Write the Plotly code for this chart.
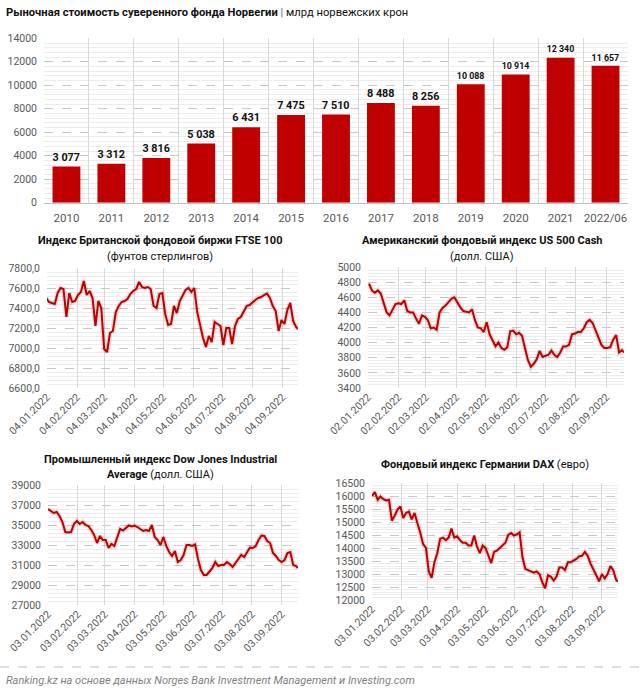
import plotly.graph_objects as go

# ---------------- data ----------------
years = ["2010", "2011", "2012", "2013", "2014", "2015", "2016", "2017", "2018",
         "2019", "2020", "2021", "2022/06"]
fund_values = [3077, 3312, 3816, 5038, 6431, 7475, 7510, 8488, 8256, 10088, 10914, 12340, 11657]

dates = [
    "2022-01-03", "2022-01-06", "2022-01-09", "2022-01-12", "2022-01-15", "2022-01-18", "2022-01-21",
    "2022-01-24", "2022-01-27", "2022-01-30", "2022-02-02", "2022-02-05", "2022-02-08", "2022-02-11",
    "2022-02-14", "2022-02-17", "2022-02-20", "2022-02-23", "2022-02-26", "2022-03-01", "2022-03-04",
    "2022-03-07", "2022-03-10", "2022-03-13", "2022-03-16", "2022-03-19", "2022-03-22", "2022-03-25",
    "2022-03-28", "2022-03-31", "2022-04-03", "2022-04-06", "2022-04-09", "2022-04-12", "2022-04-15",
    "2022-04-18", "2022-04-21", "2022-04-24", "2022-04-27", "2022-04-30", "2022-05-03", "2022-05-06",
    "2022-05-09", "2022-05-12", "2022-05-15", "2022-05-18", "2022-05-21", "2022-05-24", "2022-05-27",
    "2022-05-30", "2022-06-02", "2022-06-05", "2022-06-08", "2022-06-11", "2022-06-14", "2022-06-17",
    "2022-06-20", "2022-06-23", "2022-06-26", "2022-06-29", "2022-07-02", "2022-07-05", "2022-07-08",
    "2022-07-11", "2022-07-14", "2022-07-17", "2022-07-20", "2022-07-23", "2022-07-26", "2022-07-29",
    "2022-08-01", "2022-08-04", "2022-08-07", "2022-08-10", "2022-08-13", "2022-08-16", "2022-08-19",
    "2022-08-22", "2022-08-25", "2022-08-28", "2022-08-31", "2022-09-03", "2022-09-06", "2022-09-09",
    "2022-09-12", "2022-09-15", "2022-09-18", "2022-09-20",
]

ftse = [
    7505, 7460, 7450, 7440, 7550, 7600, 7590, 7310, 7550, 7460,
    7470, 7530, 7560, 7670, 7530, 7570, 7500, 7220, 7470,
    7400, 6990, 6960, 7150, 7170, 7360, 7420, 7460, 7470, 7490, 7540,
    7570, 7590, 7660, 7610, 7600, 7610, 7590, 7420, 7400, 7540,
    7550, 7340, 7230, 7240, 7420, 7350, 7470, 7520, 7580, 7600,
    7560, 7600, 7360, 7230, 7100, 7010, 7120, 7060, 7260, 7240,
    7220, 7030, 7200, 7200, 7040, 7220, 7290, 7310, 7360, 7420,
    7430, 7460, 7480, 7500, 7510, 7530, 7545, 7500, 7420, 7370, 7170,
    7280, 7240, 7380, 7450, 7270, 7210,
    7190,
]

us500 = [
    4780, 4690, 4660, 4690, 4650, 4520, 4400, 4360, 4430, 4510,
    4520, 4510, 4560, 4420, 4400, 4400, 4320, 4250, 4360,
    4340, 4300, 4190, 4200, 4170, 4400, 4460, 4490, 4530, 4580, 4600,
    4530, 4470, 4420, 4410, 4400, 4440, 4300, 4200, 4190, 4140,
    4270, 4110, 4030, 3950, 4000, 3930, 3905, 3940, 4150, 4160,
    4110, 4130, 4090, 3910, 3770, 3680, 3720, 3780, 3890, 3810,
    3820, 3840, 3895, 3840, 3810, 3870, 3950, 3950, 3970, 4110,
    4120, 4140, 4140, 4190, 4270, 4300, 4260, 4160, 4050, 3970, 3930,
    3930, 3940, 4040, 4100, 3870, 3900,
    3870,
]

dow = [
    36600, 36400, 36200, 36300, 35900, 35300, 34300, 34250, 34300, 35100,
    35400, 35100, 35300, 35000, 34900, 34500, 34000, 33200, 33900,
    33500, 33500, 32700, 33100, 32900, 33700, 34600, 34450, 34700, 34950, 34850,
    34950, 34800, 34600, 34400, 34500, 34400, 35000, 33800, 33500, 33000,
    33800, 32900, 32300, 31900, 32400, 31300, 31500, 32000, 33000, 33000,
    32900, 33050, 31600, 30500, 30000, 30000, 30350, 30700, 31300, 30900,
    31000, 31000, 31300, 31100, 30800, 31200, 31500, 32000, 31800, 32300,
    32750, 32700, 32900, 33500, 33950, 33900, 33400, 33200, 32200, 31900, 31500,
    31300, 31500, 32200, 32300, 31000, 30900,
    30700,
]

dax = [
    16000, 16150, 15850, 15980, 15880, 15830, 15850, 15050, 15250, 15480,
    15600, 15150, 15350, 15400, 15100, 15350, 14950, 14600, 14150,
    14000, 13100, 12850, 13450, 13800, 14350, 14400, 14300, 14400, 14750, 14400,
    14450, 14300, 14200, 14200, 14100, 14100, 14480, 14050, 13800, 14100,
    14000, 13700, 13420, 13850, 13900, 14000, 14100, 14200, 14500, 14580,
    14480, 14520, 14600, 13650, 13200, 13150, 13100, 13050, 13100, 13000,
    12680, 12450, 12950, 12900, 12750, 12900, 13250, 13250, 13150, 13450,
    13450, 13500, 13580, 13680, 13700, 13850, 13700, 13400, 13200, 12950, 12720,
    13000, 12830, 13000, 13300, 13150, 12780,
    12700,
]

# ---------------- styling ----------------
W, H = 642, 692
RED = "#C00000"
TICK = "#595959"
FONT = "Roboto"
MAJOR = "#c8c8c8"
MINOR = "#ededed"


def xd(a, b):
    return [a / W, b / W]


def yd(top, bottom):
    return [1 - bottom / H, 1 - top / H]


fig = go.Figure()

# bar chart
fig.add_trace(go.Bar(
    x=years, y=fund_values, marker=dict(color=RED, line=dict(width=0)),
    texttemplate="<b>%{y:,}</b>", textposition="outside", cliponaxis=False,
    textfont=dict(family=FONT, size=11.5, color="#111111"),
    xaxis="x", yaxis="y", showlegend=False,
))

panels = [
    ("x2", "y2", ftse),
    ("x3", "y3", us500),
    ("x4", "y4", dow),
    ("x5", "y5", dax),
]
for xa, ya, vals in panels:
    fig.add_trace(go.Scatter(
        x=dates, y=vals, mode="lines", xaxis=xa, yaxis=ya, showlegend=False,
        line=dict(color="rgba(90,0,0,0.13)", width=5), hoverinfo="skip",
    ))
    fig.add_trace(go.Scatter(
        x=dates, y=vals, mode="lines", xaxis=xa, yaxis=ya, showlegend=False,
        line=dict(color=RED, width=2),
    ))

layout = dict(
    width=W, height=H, margin=dict(l=0, r=0, t=0, b=0, autoexpand=False),
    paper_bgcolor="white", plot_bgcolor="white",
    separators=", ",
    bargap=0.38,
    font=dict(family=FONT, color=TICK),
)

layout["xaxis"] = dict(
    domain=xd(44, 628), anchor="y", type="category", automargin=False,
    tickson="boundaries", showgrid=True, gridcolor="#d9d9d9", gridwidth=1,
    ticks="", showline=True, linecolor="#bfbfbf", tickangle=0, ticklabelstandoff=4,
    tickfont=dict(family=FONT, size=11.5, color=TICK),
)
layout["yaxis"] = dict(
    domain=yd(38.3, 202.7), anchor="x", range=[0, 14000], dtick=2000, automargin=False,
    tickformat="d", showgrid=True, gridcolor=MAJOR, griddash="dash", ticklabelstandoff=6,
    zeroline=False, ticks="", tickfont=dict(family=FONT, size=10.5, color=TICK),
    minor=dict(dtick=400, showgrid=True, gridcolor=MINOR, gridwidth=1, griddash="solid"),
)


def line_axes(n, xdom, ydom, x0, rng, dt, minor_dt, fmt):
    layout["xaxis%d" % n] = dict(
        domain=xdom, anchor="y%d" % n, type="date", automargin=False,
        range=[x0, "2022-09-20"], tick0=x0, dtick="M1", tickformat="%d.%m.%Y",
        tickangle=-45, showgrid=True, gridcolor="#d9d9d9", ticks="",
        showline=False, zeroline=False,
        tickfont=dict(family=FONT, size=10.5, color=TICK),
    )
    layout["yaxis%d" % n] = dict(
        domain=ydom, anchor="x%d" % n, range=rng, tick0=rng[0], dtick=dt, tickformat=fmt,
        automargin=False, ticklabelstandoff=6,
        showgrid=True, gridcolor=MAJOR, griddash="dash", zeroline=False, ticks="",
        tickfont=dict(family=FONT, size=10.5, color=TICK),
        minor=dict(dtick=minor_dt, tick0=rng[0], showgrid=True, gridcolor=MINOR,
                   gridwidth=1, griddash="solid"),
    )


line_axes(2, xd(47, 298), yd(268, 388), "2022-01-04", [6600, 7800], 200, 40, ".1f")
line_axes(3, xd(368, 624), yd(267, 388), "2022-01-02", [3400, 5000], 200, 40, "d")
line_axes(4, xd(48, 298), yd(485, 605), "2022-01-03", [27000, 39000], 2000, 400, "d")
line_axes(5, xd(372, 618), yd(483, 600), "2022-01-03", [12000, 16500], 500, 100, "d")


def ann(text, x, y, size, anchor="center", color="#111111", italic=False, family=FONT):
    return dict(
        text=("<i>%s</i>" % text) if italic else text, x=x / W, y=1 - y / H,
        xref="paper", yref="paper", xanchor=anchor, yanchor="middle",
        showarrow=False, font=dict(family=family, size=size, color=color),
    )


annotations = [
    ann("<b>Рыночная стоимость суверенного фонда Норвегии</b> <span style='color:#666'>|</span> млрд норвежских крон",
        4, 12, 11.2, anchor="left"),
    ann("<b>Индекс Британской фондовой биржи FTSE 100</b>", 160, 240, 11),
    ann("(фунтов стерлингов)", 160, 256, 11),
    ann("<b>Американский фондовый индекс US 500 Cash</b>", 482, 240, 11),
    ann("(долл. США)", 482, 256, 11),
    ann("<b>Промышленный индекс Dow Jones Industrial</b>", 160, 459, 11),
    ann("<b>Average</b> (долл. США)", 160, 474, 11),
    ann("<b>Фондовый индекс Германии DAX</b> (евро)", 485, 464, 11),
    ann("Ranking.kz на основе данных Norges Bank Investment Management и Investing.com",
        4, 680, 11, anchor="left", color="#7f7f7f", italic=True),
]
layout["annotations"] = annotations
layout["shapes"] = [
    dict(type="line", xref="paper", yref="paper", x0=0, x1=1,
         y0=1 - 667 / H, y1=1 - 667 / H, line=dict(color="#bfbfbf", width=1, dash="dash")),
]

fig.update_layout(**layout)
fig.write_html("out.html", config={"displayModeBar": False},
               post_script="document.body.style.margin='0px';")
